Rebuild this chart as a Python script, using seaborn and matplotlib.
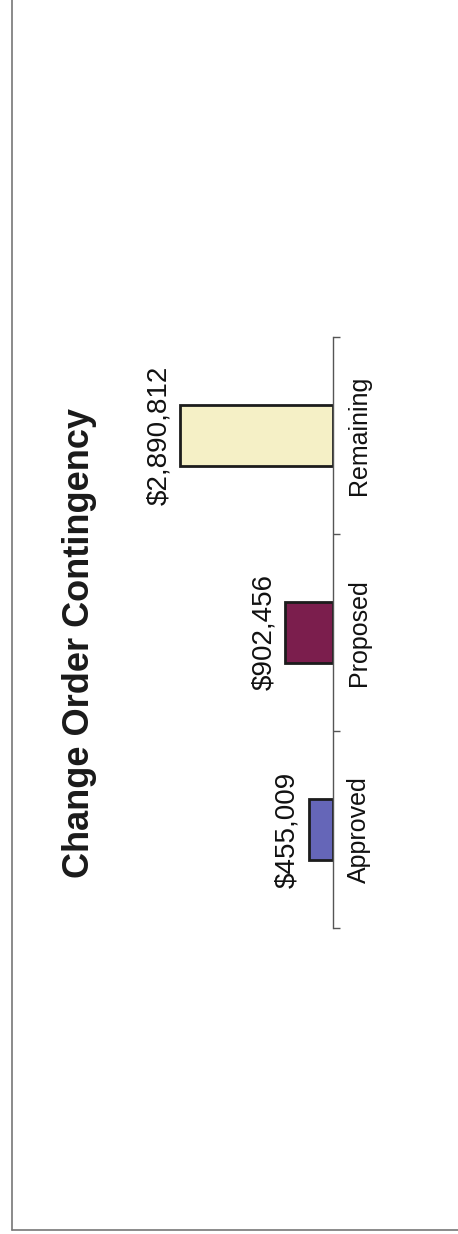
import matplotlib
matplotlib.use("Agg")
import matplotlib.pyplot as plt
from matplotlib.lines import Line2D
import seaborn as sns
import pandas as pd

categories = ["Approved", "Proposed", "Remaining"]
values = [455009, 902456, 2890812]
value_labels = ["$455,009", "$902,456", "$2,890,812"]
bar_colors = ["#6566b8", "#7b1e4d", "#f5f0c6"]
title = "Change Order Contingency"

sns.set_theme(style="white")
plt.rcParams["font.family"] = ["Liberation Sans", "DejaVu Sans"]

df = pd.DataFrame({"category": categories, "value": values})

fig = plt.figure(figsize=(4.58, 12.34), dpi=100)
fig.patch.set_facecolor("white")

W, H = 458, 1234
ax_left, ax_right = 120, 333
ax_top, ax_bottom = 337, 928
ax = fig.add_axes([ax_left / W, 1 - ax_bottom / H,
                   (ax_right - ax_left) / W, (ax_bottom - ax_top) / H])
ax.set_facecolor("none")

sns.barplot(data=df, x="value", y="category", hue="category", order=categories,
            hue_order=categories, palette=bar_colors, saturation=1, orient="h",
            legend=False, width=0.31, edgecolor="#1c1c1c", linewidth=2.0, ax=ax)

ax.set_ylim(-0.5, len(categories) - 0.5)
ax.set_xlim(4.03e6, 0)

for sp in ["top", "bottom", "left"]:
    ax.spines[sp].set_visible(False)
ax.spines["right"].set_visible(True)
ax.spines["right"].set_color("#555555")
ax.spines["right"].set_linewidth(1.0)

ax.set_xticks([])
ax.set_xlabel("")
ax.set_ylabel("")
ax.yaxis.tick_right()
ax.set_yticks(range(len(categories)))
ax.set_yticklabels(categories, rotation=90, va="center", ha="left", fontsize=18, color="#111111")
ax.set_yticks([i - 0.5 for i in range(len(categories) + 1)], minor=True)
ax.tick_params(axis="y", which="major", length=0, pad=10)
ax.tick_params(axis="y", which="minor", length=5, width=1, color="#555555", direction="out", right=True, left=False)

for i, cont in enumerate(ax.containers):
    ax.bar_label(cont, labels=[value_labels[i]], rotation=90, padding=6,
                 fontsize=20, color="#111111")

fig.text(80 / W, 1 - 643 / H, title, rotation=90, ha="center", va="center",
         fontsize=26, fontweight="bold", color="#1a1a1a")

# page border from the scan
fig.add_artist(Line2D([12 / W, 12 / W], [1 - 1230 / H, 1.0], transform=fig.transFigure,
                      color="#777777", linewidth=1.2))
fig.add_artist(Line2D([12 / W, 1.0], [1 - 1230 / H, 1 - 1230 / H], transform=fig.transFigure,
                      color="#777777", linewidth=1.2))

fig.savefig("out.png", dpi=100, facecolor="white")
